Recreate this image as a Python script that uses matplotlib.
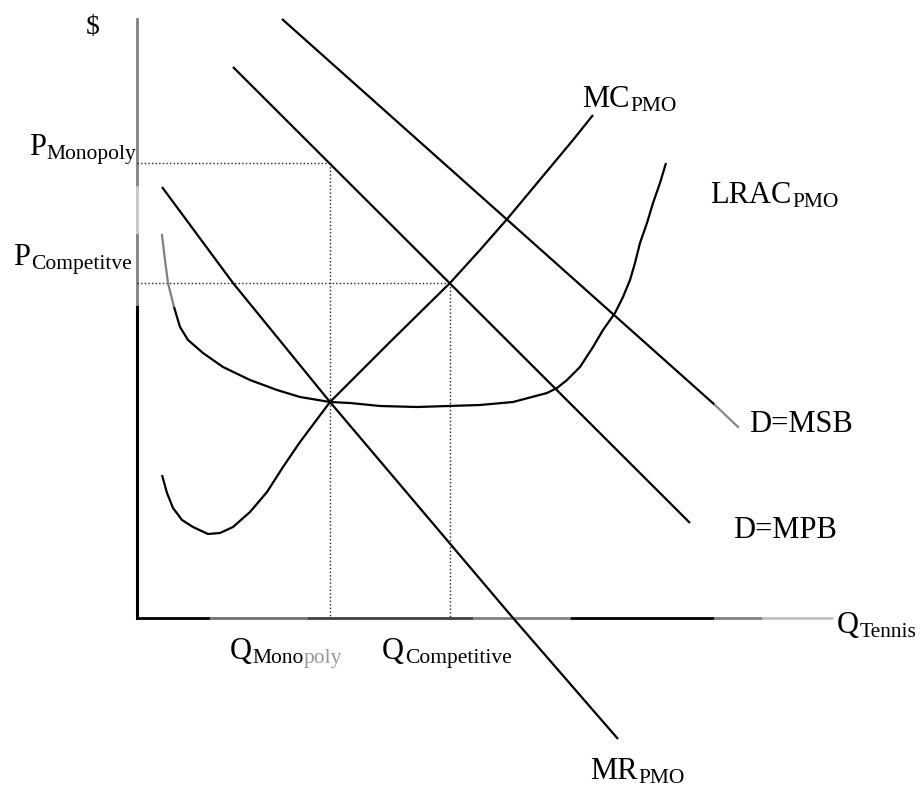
import matplotlib
matplotlib.use("Agg")
import matplotlib.pyplot as plt

# ---- data (quantity q, price p; origin at the axes corner) ----
msb_q = [145, 578, 601]
msb_p = [599, 213, 191]
mpb_q = [96, 553]
mpb_p = [551, 95]
mr_q = [25, 96, 193, 376, 481]
mr_p = [431, 335, 216, 0, -121]
mc_q = [25, 30, 36, 45, 56, 71, 83, 96, 113, 130, 146, 163, 193, 253, 313, 343, 371, 436, 456]
mc_p = [143, 125, 110, 98, 91, 84, 85, 91, 106, 126, 151, 176, 216, 276, 335, 368, 400, 478, 503]
lrac_top_q = [25, 28, 31, 37]
lrac_top_p = [383, 358, 335, 311]
lrac_q = [37, 43, 51, 66, 86, 113, 140, 163, 193, 213, 243, 280, 343, 376, 410, 420,
          430, 443, 456, 466, 478, 486, 493, 498, 503, 510, 516, 523, 529]
lrac_p = [311, 291, 278, 265, 251, 238, 228, 221, 216, 215, 212, 211, 213, 216, 225, 230,
          238, 251, 271, 288, 305, 321, 338, 355, 375, 395, 415, 435, 455]
q_monopoly, p_monopoly = 193, 455
q_competitive, p_competitive = 313, 335
y_axis_top = 599
x_axis_end = 696

X0, Y0 = 137, 618  # pixel position of origin


def T(x, y):
    return x - X0, Y0 - y


fig = plt.figure(figsize=(9.22, 7.89), dpi=100)
ax = fig.add_axes([0, 0, 1, 1])
ax.set_xlim(-X0, 922 - X0)
ax.set_ylim(Y0 - 789, Y0)
ax.set_axis_off()

LW = 1.6
kw = dict(color="black", lw=LW, solid_joinstyle="round", solid_capstyle="butt")

# axes (with the segmented grey rendering of the original)
ax.plot([0, 0], [y_axis_top, 618 - 187], color="#808080", lw=2.0)
ax.plot([0, 0], [618 - 187, 618 - 235], color="#c8c8c8", lw=2.0)
ax.plot([0, 0], [618 - 235, 618 - 307], color="#808080", lw=2.0)
ax.plot([0, 0], [618 - 307, 0], color="black", lw=2.2)
xsegs = [(0, 73, "black"), (73, 170, "#707070"), (170, 336, "#404040"),
         (336, 433, "#808080"), (433, 577, "black"), (577, 625, "#808080"),
         (625, x_axis_end, "#c0c0c0")]
for a, b, c in xsegs:
    ax.plot([a, b], [0, 0], color=c, lw=2.0, solid_capstyle="butt")

# dotted guides
dkw = dict(color="#222222", lw=1.0, linestyle=(0, (1, 1.6)))
ax.plot([0, q_monopoly], [p_monopoly, p_monopoly], **dkw)
ax.plot([q_monopoly, q_monopoly], [p_monopoly, 0], **dkw)
ax.plot([0, q_competitive], [p_competitive, p_competitive], **dkw)
ax.plot([q_competitive, q_competitive], [p_competitive, 0], **dkw)

# curves
ax.plot(msb_q[:2], msb_p[:2], **kw)
ax.plot(msb_q[1:], msb_p[1:], color="#888888", lw=LW)
ax.plot(mpb_q, mpb_p, **kw)
ax.plot(mr_q, mr_p, **kw)
ax.plot(mc_q, mc_p, **kw)
ax.plot(lrac_top_q, lrac_top_p, color="#808080", lw=LW, solid_joinstyle="round")
ax.plot(lrac_q, lrac_p, **kw)

FAM = ["Liberation Serif", "DejaVu Serif"]
BIG, SMALL = 22, 15.5


def label(x, y, main, subs=(), size=BIG):
    t = ax.text(*T(x, y), main, fontsize=size, family=FAM, va="baseline",
                ha="left", color="black")
    prev = t
    first = True
    for s, col in subs:
        if first:
            a = ax.annotate(s, xy=(1, 0), xycoords=prev, xytext=(0.5, 1.9),
                            textcoords="offset points", fontsize=SMALL,
                            family=FAM, va="baseline", ha="left", color=col)
            first = False
        else:
            a = ax.annotate(s, xy=(1, 0), xycoords=prev, xytext=(0, 0),
                            textcoords="offset points", fontsize=SMALL,
                            family=FAM, va="bottom", ha="left", color=col)
        prev = a


label(86, 34, "$", size=20)
label(29, 155, "P", [("Monopoly", "black")])
label(13, 265, "P", [("Competitve", "black")])
label(582, 107, "MC", [("PMO", "black")])
label(710, 203, "LRAC", [("PMO", "black")])
label(749, 432, "D=MSB")
label(733, 538, "D=MPB")
label(837, 633, "Q", [("Tennis", "black")])
label(230, 659, "Q", [("Mono", "black"), ("poly", "#999999")])
label(382, 659, "Q", [("Competitive", "black")])
label(590, 779, "MR", [("PMO", "black")])

fig.savefig("out.png", dpi=100)
